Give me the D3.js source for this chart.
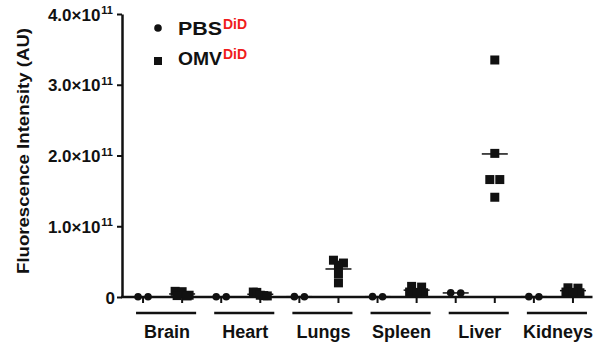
<!DOCTYPE html>
<html>
<head>
<meta charset="utf-8">
<script src="https://cdn.jsdelivr.net/npm/d3@7"></script>
<style>
  body { margin: 0; background: #fff; }
  text { font-family: "Liberation Sans", Arial, sans-serif; font-weight: bold; fill: #111; }
</style>
</head>
<body>
<script>
//organs on the x axis and the two treatment groups
var organs = ["Brain", "Heart", "Lungs", "Spleen", "Liver", "Kidneys"];
var groups = ["PBS", "OMV"];

//fluorescence per mouse, in units of 1e11 AU
var pbsValues = [
    [0.004, 0.003],
    [0.003, 0.004],
    [0.004, 0.005],
    [0.005, 0.004],
    [0.055, 0.06],
    [0.005, 0.004]
];
var omvValues = [
    [0.08, 0.075, 0.02, 0.025, 0.015],
    [0.07, 0.065, 0.02, 0.025, 0.015],
    [0.52, 0.48, 0.45, 0.33, 0.20],
    [0.15, 0.14, 0.07, 0.06, 0.065],
    [3.35, 2.03, 1.66, 1.66, 1.41],
    [0.13, 0.125, 0.07, 0.06, 0.065]
];

//y tick values and their mantissa labels
var yTicks = [0, 1e11, 2e11, 3e11, 4e11];
var yTickLabels = ["0", "1.0\u00d710", "2.0\u00d710", "3.0\u00d710", "4.0\u00d710"];
var yTickExps = ["", "11", "11", "11", "11"];

window.onload = setChart();

function setChart(){

    var width = 594,
        height = 343;

    var svg = d3.select("body")
        .append("svg")
        .attr("width", width)
        .attr("height", height);

    //one slot per organ and group
    var slots = [];
    organs.forEach(function(o){
        groups.forEach(function(g){ slots.push(o + "|" + g); });
    });

    var x = d3.scaleBand()
        .domain(slots)
        .range([123.5, 592.5]);

    var y = d3.scaleLinear()
        .domain([0, 4e11])
        .range([297, 14]);

    //y axis
    var yAxis = svg.append("g")
        .attr("transform", "translate(122,0)")
        .call(d3.axisLeft(y).tickValues(yTicks).tickSize(5).tickSizeOuter(0).tickFormat(""));
    yAxis.select(".domain").attr("stroke", "#111").attr("stroke-width", 2.5);
    yAxis.selectAll(".tick line").attr("stroke", "#111").attr("stroke-width", 2);
    yAxis.selectAll(".tick text").remove();

    yAxis.selectAll(".tick").each(function(d, i){
        var t = d3.select(this).append("text")
            .attr("x", i == 0 ? -7 : -9)
            .attr("y", 6)
            .attr("text-anchor", "end")
            .style("font-size", "17px");
        t.append("tspan").text(yTickLabels[i]);
        if (yTickExps[i] != "") {
            t.append("tspan")
                .attr("dx", 1)
                .attr("dy", -6.5)
                .style("font-size", "11px")
                .text(yTickExps[i]);
        }
    });

    //x axis with a tick under every slot
    var xAxis = svg.append("g")
        .attr("transform", "translate(0,297)")
        .call(d3.axisBottom(x).tickSize(6).tickSizeOuter(0).tickFormat(""));
    xAxis.select(".domain").attr("stroke", "#111").attr("stroke-width", 2.5)
        .attr("d", "M121,0H592.5");
    xAxis.selectAll(".tick line").attr("stroke", "#111").attr("stroke-width", 2);

    //axis title
    svg.append("text")
        .attr("transform", "translate(29,151) rotate(-90)")
        .attr("text-anchor", "middle")
        .attr("textLength", 246)
        .attr("lengthAdjust", "spacingAndGlyphs")
        .style("font-size", "16px")
        .text("Fluorescence Intensity (AU)");

    //organ brackets and labels
    organs.forEach(function(o){
        var x0 = x(o + "|PBS") + x.bandwidth() / 2 - 7,
            x1 = x(o + "|OMV") + x.bandwidth() / 2 + 14;
        svg.append("line")
            .attr("x1", x0).attr("x2", x1)
            .attr("y1", 313).attr("y2", 313)
            .attr("stroke", "#111")
            .attr("stroke-width", 2.5);
        svg.append("text")
            .attr("x", (x0 + x1) / 2 + 1)
            .attr("y", 338)
            .attr("text-anchor", "middle")
            .style("font-size", "18px")
            .text(o);
    });

    //spread points that sit at nearly the same height
    function offsets(vals){
        var idx = vals.map(function(v, i){ return i; })
            .sort(function(a, b){ return vals[b] - vals[a]; });
        var rows = [], cur = null;
        idx.forEach(function(i){
            var py = y(vals[i] * 1e11);
            if (cur && Math.abs(py - cur.y0) < 4) cur.items.push(i);
            else { cur = {y0: py, items: [i]}; rows.push(cur); }
        });
        var off = [];
        rows.forEach(function(r){
            var n = r.items.length;
            var gap = n > 1 ? Math.min(10, 14 / (n - 1)) : 0;
            r.items.forEach(function(i, j){ off[i] = (j - (n - 1) / 2) * gap; });
        });
        return off;
    }

    var marks = svg.append("g");

    organs.forEach(function(o, oi){
        [pbsValues[oi], omvValues[oi]].forEach(function(vals, gi){
            var cx = x(o + "|" + groups[gi]) + x.bandwidth() / 2;
            var off = offsets(vals);
            var m = d3.mean(vals) * 1e11;

            //mean line
            marks.append("line")
                .attr("x1", cx - 13).attr("x2", cx + 13)
                .attr("y1", y(m)).attr("y2", y(m))
                .attr("stroke", "#111")
                .attr("stroke-width", 1.5);

            vals.forEach(function(v, i){
                if (gi == 0) {
                    marks.append("circle")
                        .attr("cx", cx + off[i])
                        .attr("cy", y(v * 1e11))
                        .attr("r", 3.8)
                        .attr("fill", "#111");
                } else {
                    marks.append("rect")
                        .attr("x", cx + off[i] - 4.5)
                        .attr("y", y(v * 1e11) - 4.5)
                        .attr("width", 9)
                        .attr("height", 9)
                        .attr("fill", "#111");
                }
            });
        });
    });

    //legend
    var legend = svg.append("g");
    legend.append("circle").attr("cx", 158).attr("cy", 28).attr("r", 3.8).attr("fill", "#111");
    legend.append("rect").attr("x", 154).attr("y", 57).attr("width", 8).attr("height", 8).attr("fill", "#111");

    [["PBS", 35], ["OMV", 65]].forEach(function(d){
        legend.append("text")
            .attr("x", 178)
            .attr("y", d[1])
            .attr("textLength", 44)
            .attr("lengthAdjust", "spacingAndGlyphs")
            .style("font-size", "18px")
            .text(d[0]);
        legend.append("text")
            .attr("x", 223)
            .attr("y", d[1] - 6)
            .style("font-size", "14px")
            .style("fill", "#f01c1c")
            .text("DiD");
    });
}
</script>
</body>
</html>
